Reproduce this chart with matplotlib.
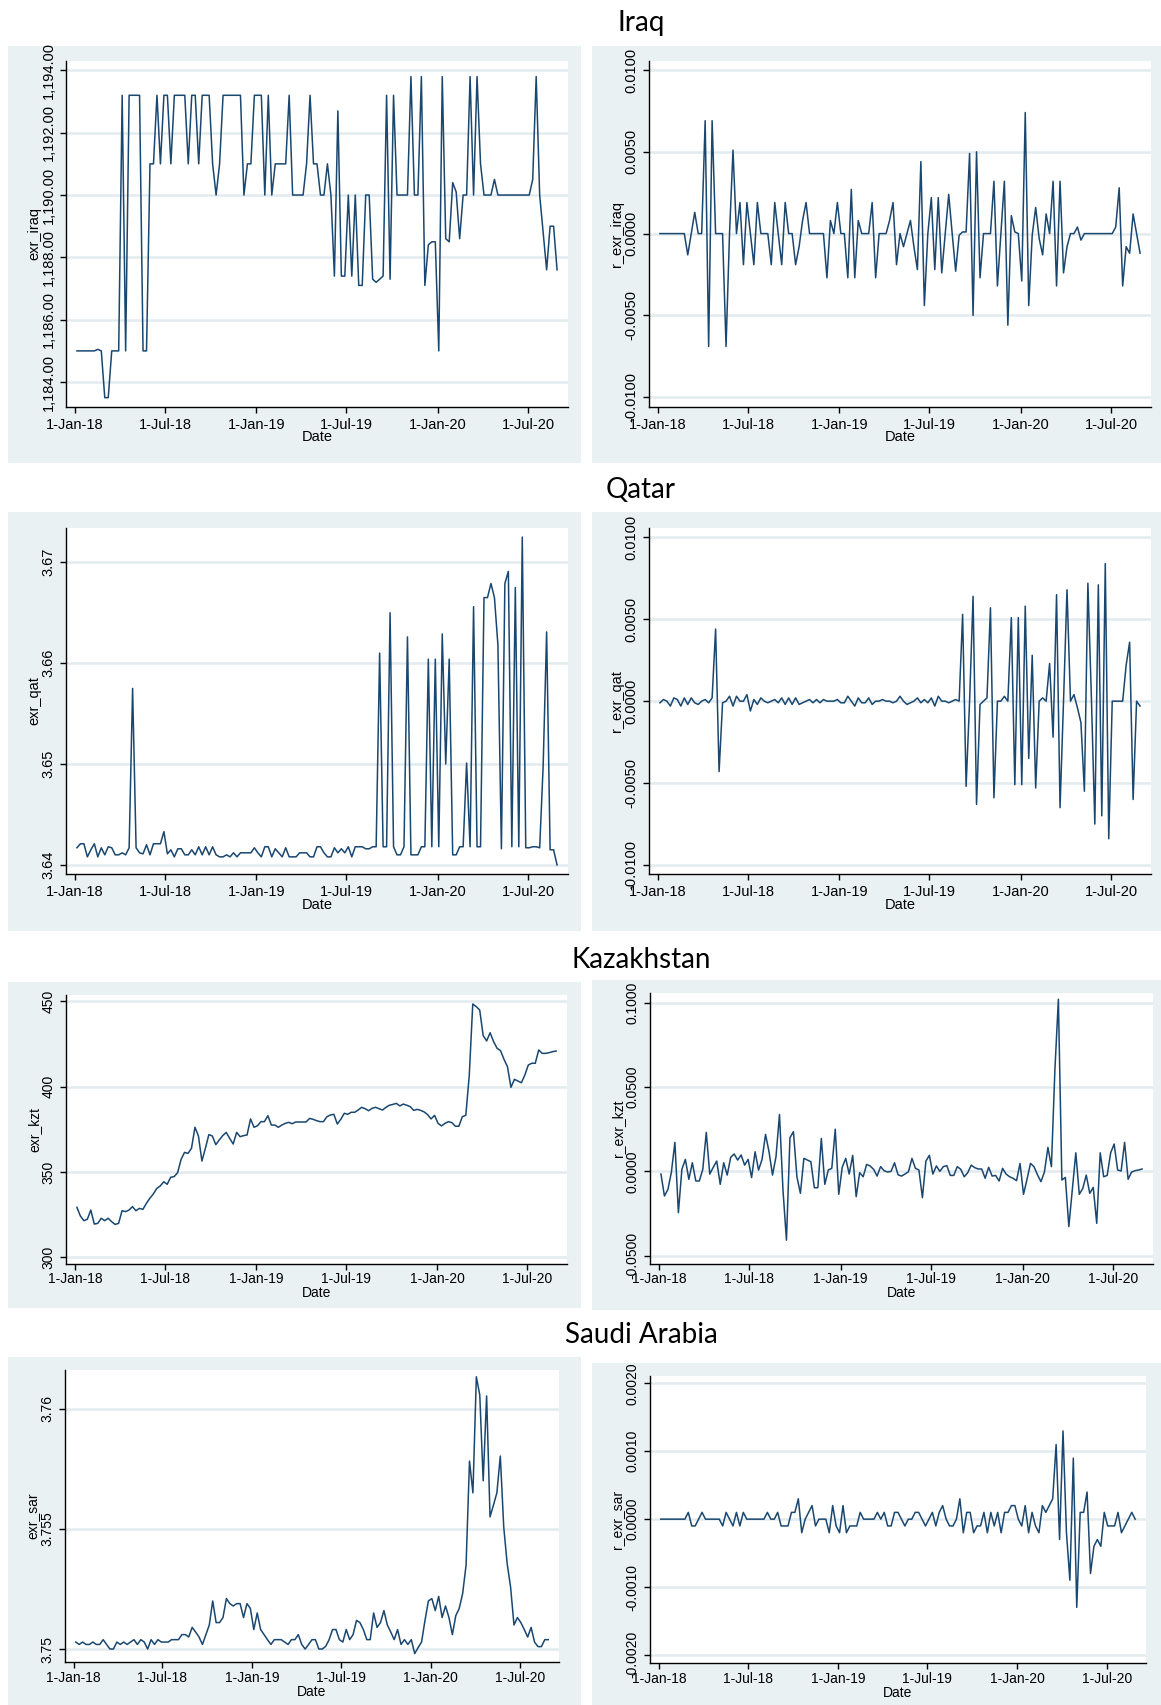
import numpy as np
import pandas as pd
import matplotlib
matplotlib.use("Agg")
import matplotlib.pyplot as plt
import matplotlib.dates as mdates
from matplotlib.patches import Rectangle
from matplotlib.ticker import FuncFormatter

# weekly observations, Jan 2018 - Aug 2020
dates = pd.date_range("2018-01-05", periods=139, freq="7D")

exr_iraq = [
    1185, 1185, 1185, 1185, 1185, 1185, 1185.05, 1185, 1183.5, 1183.5,
    1185, 1185, 1185, 1193.2, 1185, 1193.2, 1193.2, 1193.2, 1193.2, 1185,
    1185, 1191, 1191, 1193.2, 1191, 1193.2, 1193.2, 1191, 1193.2, 1193.2,
    1193.2, 1193.2, 1191, 1193.2, 1193.2, 1191, 1193.2, 1193.2, 1193.2, 1191,
    1190, 1191, 1193.2, 1193.2, 1193.2, 1193.2, 1193.2, 1193.2, 1190, 1191,
    1191, 1193.2, 1193.2, 1193.2, 1190, 1193.2, 1190, 1191, 1191, 1191,
    1191, 1193.2, 1190, 1190, 1190, 1190, 1191, 1193.2, 1191, 1191,
    1190, 1190, 1191, 1190, 1187.4, 1192.7, 1187.4, 1187.4, 1190, 1187.4,
    1190, 1187.1, 1187.1, 1190, 1190, 1187.3, 1187.2, 1187.3, 1187.4, 1193.2,
    1187.3, 1193.2, 1190, 1190, 1190, 1190, 1193.8, 1190, 1190, 1193.8,
    1187.1, 1188.4, 1188.5, 1188.5, 1185, 1193.8, 1188.6, 1188.5, 1190.4, 1190.1,
    1188.6, 1190, 1190, 1193.8, 1190, 1193.8, 1191, 1190, 1190, 1190,
    1190.5, 1190, 1190, 1190, 1190, 1190, 1190, 1190, 1190, 1190,
    1190, 1190.5, 1193.8, 1190, 1188.8, 1187.6, 1189, 1189, 1187.6,
]

r_exr_iraq = [
    0, 0, 0, 0, 0, 0, 0, 0, -0.0013, 0,
    0.0013, 0, 0, 0.0069, -0.0069, 0.0069, 0, 0, 0, -0.0069,
    0, 0.0051, 0, 0.0019, -0.0019, 0.0019, 0, -0.0019, 0.0019, 0,
    0, 0, -0.0019, 0.0019, 0, -0.0019, 0.0019, 0, 0, -0.0019,
    -0.0008, 0.0008, 0.0019, 0, 0, 0, 0, 0, -0.0027, 0.0008,
    0, 0.0019, 0, 0, -0.0027, 0.0027, -0.0027, 0.0008, 0, 0,
    0, 0.0019, -0.0027, 0, 0, 0, 0.0008, 0.0019, -0.0019, 0,
    -0.0008, 0, 0.0008, -0.0008, -0.0022, 0.0044, -0.0044, 0, 0.0022, -0.0022,
    0.0022, -0.0024, 0, 0.0024, 0, -0.0023, -0.0001, 0.0001, 0.0001, 0.0049,
    -0.0050, 0.0050, -0.0027, 0, 0, 0, 0.0032, -0.0032, 0, 0.0032,
    -0.0056, 0.0011, 0.0001, 0, -0.0029, 0.0074, -0.0044, -0.0001, 0.0016, -0.0003,
    -0.0013, 0.0012, 0, 0.0032, -0.0032, 0.0032, -0.0024, -0.0008, 0, 0,
    0.0004, -0.0004, 0, 0, 0, 0, 0, 0, 0, 0,
    0, 0.0004, 0.0028, -0.0032, -0.0008, -0.0012, 0.0012, 0, -0.0012,
]

exr_qat = [
    3.6417, 3.6421, 3.6421, 3.6408, 3.6415, 3.6421, 3.6408, 3.6417, 3.6410, 3.6418,
    3.6417, 3.6410, 3.6410, 3.6412, 3.6410, 3.6417, 3.6575, 3.6417, 3.6412, 3.6411,
    3.6420, 3.6410, 3.6421, 3.6421, 3.6421, 3.6433, 3.6411, 3.6415, 3.6408, 3.6416,
    3.6416, 3.6410, 3.6410, 3.6415, 3.6410, 3.6418, 3.6410, 3.6418, 3.6410, 3.6418,
    3.6410, 3.6408, 3.6408, 3.6410, 3.6408, 3.6412, 3.6408, 3.6412, 3.6412, 3.6412,
    3.6412, 3.6417, 3.6412, 3.6408, 3.6418, 3.6418, 3.6408, 3.6416, 3.6412, 3.6408,
    3.6417, 3.6408, 3.6408, 3.6408, 3.6412, 3.6412, 3.6412, 3.6408, 3.6408, 3.6418,
    3.6418, 3.6412, 3.6408, 3.6408, 3.6417, 3.6412, 3.6416, 3.6412, 3.6418, 3.6408,
    3.6418, 3.6418, 3.6418, 3.6416, 3.6416, 3.6418, 3.6418, 3.6610, 3.6418, 3.6418,
    3.6650, 3.6418, 3.6410, 3.6410, 3.6418, 3.6626, 3.6410, 3.6410, 3.6410, 3.6418,
    3.6418, 3.6604, 3.6418, 3.6604, 3.6418, 3.6629, 3.6500, 3.6604, 3.6410, 3.6410,
    3.6418, 3.6418, 3.6501, 3.6418, 3.6656, 3.6418, 3.6418, 3.6665, 3.6665, 3.6679,
    3.6665, 3.6618, 3.6416, 3.6679, 3.6691, 3.6418, 3.6675, 3.6418, 3.6725, 3.6417,
    3.6417, 3.6418, 3.6418, 3.6417, 3.6498, 3.6631, 3.6415, 3.6415, 3.6400,
]

r_exr_qat = [
    -0.0001, 0.0001, 0, -0.0003, 0.0002, 0.0001, -0.0003, 0.0002, -0.0002, 0.0002,
    -0.0001, -0.0002, 0, 0.0001, -0.0001, 0.0002, 0.0044, -0.0043, -0.0001, 0,
    0.0003, -0.0003, 0.0003, 0, 0, 0.0004, -0.0006, 0.0001, -0.0002, 0.0002,
    0, -0.0001, 0, 0.0001, -0.0001, 0.0002, -0.0002, 0.0002, -0.0002, 0.0002,
    -0.0002, -0.0001, 0, 0.0001, -0.0001, 0.0001, -0.0001, 0.0001, 0, 0,
    0, 0.0001, -0.0001, -0.0001, 0.0003, 0, -0.0003, 0.0002, -0.0001, -0.0001,
    0.0002, -0.0002, 0, 0, 0.0001, 0, 0, -0.0001, 0, 0.0003,
    0, -0.0002, -0.0001, 0, 0.0002, -0.0001, 0.0001, -0.0001, 0.0002, -0.0003,
    0.0003, 0, 0, -0.0001, 0, 0.0001, 0, 0.0053, -0.0052, 0,
    0.0064, -0.0063, -0.0002, 0, 0.0002, 0.0057, -0.0059, 0, 0, 0.0003,
    0, 0.0051, -0.0051, 0.0051, -0.0051, 0.0058, -0.0035, 0.0028, -0.0053, 0,
    0.0002, 0, 0.0023, -0.0022, 0.0065, -0.0065, 0, 0.0068, 0, 0.0004,
    -0.0004, -0.0013, -0.0055, 0.0072, 0.0003, -0.0075, 0.0071, -0.0070, 0.0084, -0.0084,
    0, 0, 0, 0, 0.0022, 0.0036, -0.0060, 0, -0.0003,
]

exr_kzt = [
    329.3, 324.2, 321.5, 322.3, 327.7, 319.5, 319.9, 322.9, 321.5, 322.9,
    320.9, 319.3, 319.9, 327.3, 326.8, 327.7, 329.7, 327.3, 328.7, 328.1,
    331.6, 334.6, 337.1, 340.4, 341.8, 344.3, 342.8, 346.9, 347.3, 349.6,
    357.4, 361.5, 360.9, 363.9, 376.2, 371.1, 356.4, 363.9, 371.9, 371.1,
    366.0, 368.8, 371.3, 373.2, 369.7, 366.4, 373.2, 370.7, 371.3, 371.7,
    381.1, 376.2, 377.1, 379.5, 379.5, 383.0, 377.5, 377.5, 376.2, 377.5,
    378.5, 379.1, 378.3, 379.3, 379.3, 379.3, 379.3, 381.4, 380.9, 380.1,
    379.5, 379.5, 382.4, 383.4, 383.8, 378.1, 380.9, 384.4, 383.8, 385.0,
    385.0, 386.3, 387.9, 387.1, 385.9, 387.3, 387.9, 387.1, 386.3, 387.9,
    389.1, 389.6, 390.2, 388.7, 389.8, 389.1, 388.3, 386.1, 386.7, 386.1,
    385.2, 383.6, 381.1, 383.2, 378.5, 377.0, 378.5, 379.5, 378.9, 376.8,
    376.8, 382.4, 383.2, 406.8, 448.4, 446.9, 444.9, 429.9, 426.8, 431.6,
    426.4, 422.5, 421.1, 416.0, 411.7, 399.6, 404.3, 403.3, 402.3, 406.8,
    412.7, 413.7, 413.7, 421.5, 419.5, 419.5, 419.9, 420.5, 420.9,
]

r_exr_kzt = [
    -0.0016, -0.0146, -0.0107, -0.0004, 0.0172, -0.0245, 0.0012, 0.0071, -0.0047, 0.0051,
    -0.0057, -0.0057, 0.0012, 0.0231, -0.0016, 0.0024, 0.0061, -0.0077, 0.0051, -0.0022,
    0.0083, 0.0103, 0.0067, 0.0097, 0.0037, 0.0071, -0.0037, 0.0116, 0.0008, 0.0071,
    0.0219, 0.0116, -0.0022, 0.0087, 0.0337, -0.0110, -0.0408, 0.0199, 0.0235, -0.0032,
    -0.0130, 0.0077, 0.0067, 0.0057, -0.0097, -0.0097, 0.0195, -0.0077, 0.0008, 0.0018,
    0.0250, -0.0136, 0.0024, 0.0077, -0.0016, 0.0095, -0.0150, -0.0008, -0.0032, 0.0041,
    0.0032, 0.0012, -0.0028, 0.0028, 0.0004, -0.0004, 0.0000, 0.0051, -0.0020, -0.0028,
    -0.0016, -0.0002, 0.0077, 0.0018, 0.0008, -0.0156, 0.0061, 0.0095, -0.0016, 0.0032,
    0.0000, 0.0028, 0.0034, -0.0024, -0.0024, 0.0028, 0.0012, -0.0032, -0.0008, 0.0037,
    0.0022, 0.0014, 0.0014, -0.0041, 0.0024, -0.0028, -0.0024, -0.0057, 0.0018, -0.0016,
    -0.0032, -0.0041, -0.0055, 0.0047, -0.0136, -0.0047, 0.0047, 0.0028, -0.0020, -0.0061,
    -0.0004, 0.0142, 0.0028, 0.0600, 0.1020, -0.0051, -0.0036, -0.0327, -0.0110, 0.0110,
    -0.0136, -0.0101, -0.0022, -0.0130, -0.0095, -0.0308, 0.0110, -0.0032, -0.0024, 0.0110,
    0.0162, 0.0008, 0.0002, 0.0172, -0.0047, -0.0004, 0.0004, 0.0008, 0.0014,
]

exr_sar = [
    3.75029, 3.75019, 3.75029, 3.75019, 3.75019, 3.75029, 3.75019, 3.75019, 3.75039, 3.75019,
    3.75000, 3.75000, 3.75029, 3.75019, 3.75029, 3.75019, 3.75029, 3.75039, 3.75019, 3.75039,
    3.75029, 3.75000, 3.75039, 3.75019, 3.75039, 3.75029, 3.75029, 3.75029, 3.75039, 3.75039,
    3.75039, 3.75060, 3.75060, 3.75050, 3.75090, 3.75071, 3.75050, 3.75019, 3.75060, 3.75100,
    3.75200, 3.75110, 3.75110, 3.75131, 3.75210, 3.75189, 3.75179, 3.75189, 3.75189, 3.75131,
    3.75189, 3.75169, 3.75081, 3.75150, 3.75081, 3.75060, 3.75039, 3.75019, 3.75039, 3.75039,
    3.75039, 3.75029, 3.75019, 3.75039, 3.75039, 3.75060, 3.75019, 3.75000, 3.75019, 3.75039,
    3.75039, 3.75000, 3.75000, 3.75011, 3.75039, 3.75081, 3.75081, 3.75039, 3.75029, 3.75081,
    3.75039, 3.75060, 3.75119, 3.75110, 3.75081, 3.75039, 3.75039, 3.75150, 3.75090, 3.75110,
    3.75160, 3.75100, 3.75071, 3.75039, 3.75081, 3.75019, 3.75039, 3.75019, 3.75039, 3.74981,
    3.75006, 3.75029, 3.75119, 3.75200, 3.75210, 3.75160, 3.75219, 3.75131, 3.75179, 3.75131,
    3.75060, 3.75139, 3.75169, 3.75231, 3.75349, 3.75782, 3.75650, 3.76133, 3.76057, 3.75700,
    3.76053, 3.75550, 3.75599, 3.75650, 3.75803, 3.75508, 3.75356, 3.75258, 3.75100, 3.75131,
    3.75110, 3.75081, 3.75050, 3.75090, 3.75029, 3.75010, 3.75010, 3.75039, 3.75039,
]

r_exr_sar = [
    0, 0, 0, 0, 0, 0, 0, 0, 0.0001, -0.0001,
    -0.0001, 0, 0.0001, 0, 0, 0, 0, 0, -0.0001, 0.0001,
    0, -0.0001, 0.0001, -0.0001, 0.0001, 0, 0, 0, 0, 0,
    0, 0.0001, 0, 0, 0.0001, -0.0001, -0.0001, -0.0001, 0.0001, 0.0001,
    0.0003, -0.0002, 0, 0.0001, 0.0002, -0.0001, 0, 0, 0, -0.0002,
    0.0002, -0.0001, -0.0002, 0.0002, -0.0002, -0.0001, -0.0001, -0.0001, 0.0001, 0,
    0, 0, 0, 0.0001, 0, 0.0001, -0.0001, -0.0001, 0.0001, 0.0001,
    0, -0.0001, 0, 0, 0.0001, 0.0001, 0, -0.0001, 0, 0.0001,
    -0.0001, 0.0001, 0.0002, 0, -0.0001, -0.0001, 0, 0.0003, -0.0002, 0.0001,
    0.0001, -0.0002, -0.0001, -0.0001, 0.0001, -0.0002, 0.0001, -0.0001, 0.0001, -0.0002,
    0.0001, 0.0001, 0.0002, 0.0002, 0, -0.0001, 0.0002, -0.0002, 0.0001, -0.0001,
    -0.0002, 0.0002, 0.0001, 0.0002, 0.0003, 0.0011, -0.0003, 0.0013, -0.0002, -0.0009,
    0.0009, -0.0013, 0.0001, 0.0001, 0.0004, -0.0008, -0.0004, -0.0003, -0.0004, 0.0001,
    -0.0001, -0.0001, -0.0001, 0.0001, -0.0002, -0.0001, 0, 0.0001, 0,
]

countries = ["Iraq", "Qatar", "Kazakhstan", "Saudi Arabia"]

W, H = 1161, 1705
navy = "#1a476f"
bg = "#eaf1f3"
gridc = "#e2ebee"

plt.rcParams["font.family"] = ["Liberation Sans", "DejaVu Sans"]
fig = plt.figure(figsize=(W / 100, H / 100), dpi=100)

xticks = pd.to_datetime(["2018-01-01", "2018-07-01", "2019-01-01",
                         "2019-07-01", "2020-01-01", "2020-07-01"])
xlo = pd.Timestamp("2018-01-01") - pd.Timedelta(days=18)
xhi = pd.Timestamp("2018-01-01") + pd.Timedelta(days=992)


def date_label(x, pos):
    d = mdates.num2date(x)
    return f"{d.day}-{d.strftime('%b-%y')}"


def box(x0, y0, x1, y1):
    fig.add_artist(Rectangle((x0 / W, 1 - y1 / H), (x1 - x0) / W, (y1 - y0) / H,
                             transform=fig.transFigure, facecolor=bg,
                             edgecolor="none", zorder=0))


def panel(rect, values, ylabel, yticks, ylim, fmt, date_off, xpad, fs=10.5):
    x0, y0, x1, y1 = rect
    w, h = x1 - x0, y1 - y0
    ax = fig.add_axes([x0 / W, 1 - y1 / H, w / W, h / H])
    ax.plot(dates, values, color=navy, lw=1.1, zorder=3)
    ax.set_xlim(xlo, xhi)
    ax.set_ylim(*ylim)
    ax.set_xticks(xticks)
    ax.xaxis.set_major_formatter(FuncFormatter(date_label))
    ax.set_yticks(yticks)
    ax.yaxis.set_major_formatter(FuncFormatter(lambda v, p: fmt.format(v)))
    ax.yaxis.grid(True, color=gridc, lw=1.8)
    ax.set_axisbelow(True)
    for s in ["top", "right"]:
        ax.spines[s].set_visible(False)
    for s in ["left", "bottom"]:
        ax.spines[s].set_linewidth(1.0)
    ax.tick_params(axis="both", direction="out", length=4.5, width=1.0,
                   labelsize=fs)
    ax.tick_params(axis="x", pad=xpad)
    ax.tick_params(axis="y", labelrotation=90, pad=3)
    for t in ax.yaxis.get_major_ticks():
        t.label1.set_va("center")
    ax.set_ylabel(ylabel, fontsize=fs)
    ax.yaxis.set_label_coords(-25 / w, 0.5)
    ax.set_xlabel("Date", fontsize=fs, va="center")
    ax.xaxis.set_label_coords(0.5, -date_off / h)
    return ax


ret_ticks = [-0.01, -0.005, 0, 0.005, 0.01]

# row 1: Iraq
box(8, 46, 581, 463)
box(592, 46, 1161, 463)
panel((66, 61, 568, 407), exr_iraq, "exr_iraq", np.arange(1184, 1195, 2),
      (1183.2, 1194.3), "{:,.2f}", 30, 3.5)
panel((649, 61, 1151, 407), r_exr_iraq, "r_exr_iraq", ret_ticks,
      (-0.0106, 0.01055), "{:.4f}", 30, 3.5)

# row 2: Qatar
box(8, 512, 581, 931)
box(592, 512, 1161, 931)
panel((66, 528, 568, 874), exr_qat, "exr_qat", [3.64, 3.65, 3.66, 3.67],
      (3.6391, 3.6734), "{:.2f}", 31, 3.5)
panel((649, 528, 1151, 874), r_exr_qat, "r_exr_qat", ret_ticks,
      (-0.01055, 0.01057), "{:.4f}", 31, 3.5)

# row 3: Kazakhstan
box(8, 982, 581, 1308)
box(592, 980, 1161, 1310)
panel((66, 995, 567, 1264), exr_kzt, "exr_kzt", [300, 350, 400, 450],
      (296.1, 453.7), "{:.0f}", 29, 1.5, fs=10)
panel((650, 993, 1153, 1264), r_exr_kzt, "r_exr_kzt", [-0.05, 0, 0.05, 0.1],
      (-0.0549, 0.1057), "{:.4f}", 29, 1.5, fs=10)

# row 4: Saudi Arabia
box(8, 1357, 581, 1705)
box(592, 1363, 1161, 1705)
panel((65, 1370, 559, 1662), exr_sar, "exr_sar", [3.75, 3.755, 3.76],
      (3.74946, 3.76161), "{:g}", 30, 2, fs=10)
panel((650, 1376, 1146, 1663), r_exr_sar, "r_exr_sar",
      [-0.002, -0.001, 0, 0.001, 0.002],
      (-0.00212, 0.00211), "{:.4f}", 30, 2, fs=10)

# country headings
for name, base in zip(countries, [31, 498, 968, 1343]):
    fig.text(641 / W, 1 - base / H, name, ha="center", va="baseline",
             fontsize=20, family=["Lato", "DejaVu Sans"])

fig.savefig("out.png", dpi=100, facecolor="white")
